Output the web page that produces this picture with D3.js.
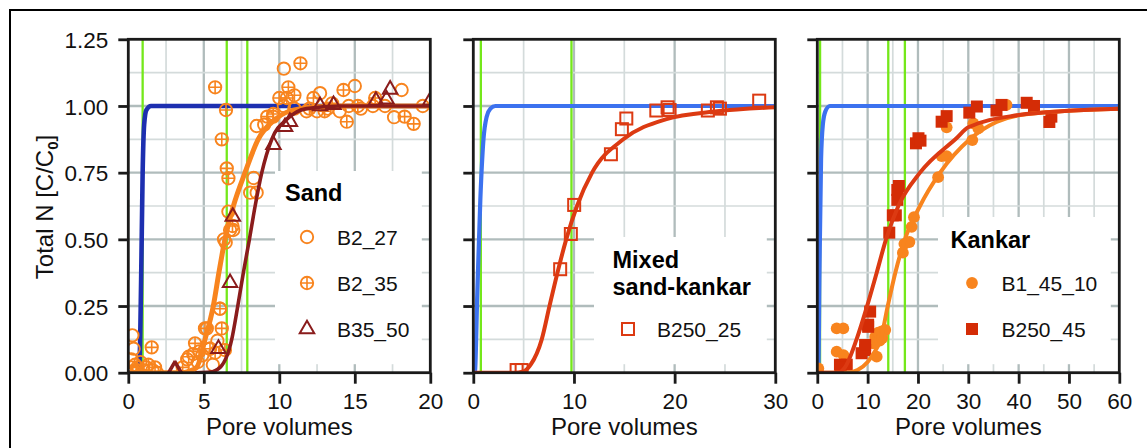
<!DOCTYPE html>
<html><head><meta charset="utf-8">
<script src="https://cdn.jsdelivr.net/npm/d3@7"></script>
<style>body{margin:0;background:#fff}svg{display:block}text{font-family:"Liberation Sans",Arial,sans-serif}</style>
</head><body><svg id="c" width="1147" height="448"></svg>
<script>
// ---------- data ----------
const yTicks = [0, 0.25, 0.5, 0.75, 1.0, 1.25];
const yTickLabels = ["0.00","0.25","0.50","0.75","1.00","1.25"];
const xMaxs = [20, 30, 60];
const xTicks1 = [0,5,10,15,20];
const xTicks2 = [0,10,20,30];
const xTicks3 = [0,10,20,30,40,50,60];
const greenLines1 = [0.95, 6.52, 7.88];
const greenLines2 = [0.75, 9.75];
const greenLines3 = [0.55, 14.1, 17.4];

// Sand panel
const sandB2_27 = [[0.27,0.14],[0.35,0.09],[0.2,0.05],[0.45,0.03],[0.6,0.01],[0.15,0.02],[0.8,0.04],[1.2,0.02],[1.6,0.01],[1.9,0.0],
 [3.9,0.05],[4.3,0.07],[4.6,0.04],[4.9,0.065],[5.2,0.166],[5.4,0.09],[5.6,0.03],[5.9,0.12],[6.08,0.24],[6.34,0.5],[6.45,0.488],
 [6.63,0.604],[6.74,0.535],[6.95,0.535],[8.07,0.675],[8.5,0.675],[8.3,0.73],[8.5,0.925],[9.0,0.93],[9.6,0.96],[10.3,1.14],[10.3,1.0],
 [11.0,0.99],[11.8,0.98],[12.7,1.048],[12.5,0.98],[13.2,0.99],[14.0,0.98],[14.6,1.0],[15.0,1.075],[15.4,0.99],[16.2,1.0],[17.0,1.0],
 [17.6,0.958],[18.1,1.06],[19.5,1.0]];
const sandB2_35 = [[0.3,0.0],[0.6,0.02],[1.0,0.01],[1.33,0.03],[1.55,0.095],[1.77,0.02],
 [3.6,0.02],[4.0,0.06],[4.42,0.11],[4.7,0.08],[5.08,0.166],[5.41,0.09],[5.75,0.075],[6.07,0.24],[6.19,0.166],[6.4,0.085],
 [5.75,1.07],[6.47,0.985],[6.19,0.875],[6.52,0.766],[6.63,0.729],[6.9,0.55],
 [9.2,0.96],[9.6,0.97],[10.0,1.03],[10.5,1.03],[10.6,1.07],[11.4,1.16],[11.0,1.04],[12.0,0.99],[12.26,1.03],[13.0,0.98],[13.5,1.01],
 [14.25,1.06],[14.47,0.941],[15.2,1.0],[16.35,1.03],[18.3,0.96],[18.9,0.933]];
const sandB35_50 = [[3.03,0.01],[3.15,0.01],[5.97,0.09],[6.74,0.337],[6.92,0.585],[9.61,0.854],[10.38,0.922],[10.7,0.941],
 [12.7,1.0],[13.59,1.004],[16.4,1.02],[17.1,1.025],[17.34,1.062],[20.0,1.02]];
const sandTracer = [[0,0],[0.65,0],[0.75,0.05],[0.85,0.35],[0.95,0.75],[1.05,0.93],[1.2,0.985],[1.5,1],[20,1]];
const sandFitB2 = [[0,0],[3.5,0],[4.0,0.005],[4.53,0.02],[5.08,0.125],[5.63,0.25],[6.0,0.375],[6.4,0.5],[6.96,0.625],[7.73,0.75],
 [8.6,0.875],[9.72,0.95],[11.4,0.99],[14,1.0],[20,1.0]];
const sandFitB35 = [[4.5,0],[5.4,0.002],[6.08,0.02],[6.85,0.125],[7.25,0.25],[7.62,0.375],[8.02,0.5],[8.4,0.625],[8.84,0.75],
 [9.5,0.875],[10.5,0.95],[11.8,0.99],[14,1],[20,1]];

// Mixed panel
const mixB250_25 = [[4.3,0.01],[4.8,0.01],[8.63,0.388],[9.69,0.52],[10.02,0.629],[13.67,0.819],[14.76,0.913],[15.2,0.953],
 [18.18,0.983],[19.3,0.995],[19.5,0.985],[23.3,0.983],[24.2,0.995],[24.5,0.99],[28.4,1.02]];
const mixTracer = [[0,0],[0.15,0],[0.4,0.3],[0.7,0.65],[1.0,0.87],[1.33,0.96],[1.7,0.99],[2.2,1],[30,1]];
const mixFit = [[0,0],[4,0],[5.0,0.005],[5.7,0.03],[6.8,0.125],[7.57,0.25],[8.36,0.375],[9.23,0.5],[10.3,0.625],[11.8,0.75],
 [14.9,0.875],[19.1,0.95],[24.2,0.98],[30,0.995]];

// Kankar panel
const kanB1_45_10 = [[0.2,0.016],[3.85,0.166],[5.17,0.166],[3.85,0.079],[5.2,0.066],[11.8,0.06],[11.1,0.11],[11.5,0.135],
 [12.1,0.15],[12.8,0.155],[13.5,0.16],[12.4,0.12],[12.9,0.13],[17.0,0.45],[17.3,0.483],[18.3,0.49],[18.75,0.547],[19.2,0.583],
 [24.0,0.733],[24.7,0.812],[25.7,0.812],[25.7,0.92],[30.8,0.872],[31.0,0.935],[32.0,0.916],[37.6,1.004]];
const kanB250_45 = [[4.5,0.03],[5.85,0.03],[4.65,0.02],[8.8,0.073],[9.5,0.085],[9.5,0.104],[10.1,0.172],[10.1,0.18],[10.5,0.229],
 [14.3,0.525],[15.0,0.59],[15.6,0.59],[15.9,0.648],[15.9,0.685],[16.2,0.70],[19.6,0.86],[20.1,0.879],[20.5,0.87],[24.7,0.941],
 [25.7,0.962],[30.2,0.975],[31.7,0.998],[35.6,0.983],[36.6,1.004],[41.6,1.012],[43.05,1.0],[46.1,0.94],[46.5,0.96]];
const kanTracer = [[0,0],[0.2,0],[0.45,0.4],[0.75,0.8],[1.1,0.93],[1.6,0.98],[2.5,1],[60,1]];
const kanFitB1 = [[0,0],[6,0],[8,0.01],[10,0.04],[11.1,0.07],[12.6,0.125],[14.0,0.25],[15.5,0.375],[17.4,0.5],[20.4,0.625],
 [24.4,0.75],[30.3,0.875],[35.6,0.94],[40,0.965],[50,0.982],[60,0.99]];
const kanFitB250 = [[0,0],[4,0],[5.5,0.02],[7.8,0.125],[9.9,0.25],[11.8,0.375],[13.65,0.5],[16.1,0.625],[20.4,0.75],[27.7,0.88],
 [30,0.92],[40,0.966],[50,0.982],[60,0.99]];

// ---------- styles ----------
const C = {orange:"#f8841e", dred:"#8a1c1c", red:"#dc3a12", red3:"#d42c06", navy:"#1d2fb0", blue:"#3c72ef",
  green:"#74e81a", gridMaj:"#b0bcbc", gridMin:"#d4dbdb", frame:"#1a1a1a"};
const FONT = '"Liberation Sans",Arial,sans-serif';

const svg = d3.select("#c");
svg.append("rect").attr("x",10).attr("y",10).attr("width",1160).attr("height",460)
  .attr("fill","none").attr("stroke","#000").attr("stroke-width",2);

const plotTop = 39.3, plotBottom = 372.7, pw = 302;
const lefts = [128.3, 473.3, 817.3];
const y = d3.scaleLinear().domain([0,1.25]).range([plotBottom, plotTop]);

// symbols
function drawSym(g, type, cx, cy, color) {
  const r = 6.2;
  if (type === "ocircle") {
    g.append("circle").attr("cx",cx).attr("cy",cy).attr("r",r).attr("fill","none").attr("stroke",color).attr("stroke-width",1.9);
  } else if (type === "xcircle") {
    g.append("circle").attr("cx",cx).attr("cy",cy).attr("r",r).attr("fill","none").attr("stroke",color).attr("stroke-width",1.9);
    g.append("path").attr("d",`M${cx-r},${cy}H${cx+r}M${cx},${cy-r}V${cy+r}`).attr("stroke",color).attr("stroke-width",1.6);
  } else if (type === "tri") {
    const s = 14.5, h = s*Math.sqrt(3)/2;
    g.append("path").attr("d",`M${cx},${cy-2*h/3}L${cx+s/2},${cy+h/3}L${cx-s/2},${cy+h/3}Z`)
      .attr("fill","none").attr("stroke",color).attr("stroke-width",2).attr("stroke-linejoin","miter");
  } else if (type === "osquare") {
    g.append("rect").attr("x",cx-6).attr("y",cy-6).attr("width",12).attr("height",12).attr("fill","none").attr("stroke",color).attr("stroke-width",2);
  } else if (type === "fcircle") {
    g.append("circle").attr("cx",cx).attr("cy",cy).attr("r",5.9).attr("fill",color);
  } else if (type === "fsquare") {
    g.append("rect").attr("x",cx-6).attr("y",cy-6).attr("width",12).attr("height",12).attr("fill",color);
  }
}

const panels = [
  {xmax:xMaxs[0], ticks:xTicks1, grid:2.5, greens:greenLines1, tracer:sandTracer, tracerColor:C.navy, tw:4.6,
   points:[{d:sandB2_27,t:"ocircle",c:C.orange},{d:sandB2_35,t:"xcircle",c:C.orange}],
   fits:[{d:sandFitB2,c:C.orange,w:5},{d:sandFitB35,c:C.dred,w:3.6}],
   after:[{d:sandB35_50,t:"tri",c:C.dred}],
   legend:{x0:275, y0:171, title:["Sand"], tx:285, ty:[201], items:[
     {t:"ocircle",c:C.orange,label:"B2_27",y:237},{t:"xcircle",c:C.orange,label:"B2_35",y:283},{t:"tri",c:C.dred,label:"B35_50",y:329}],
     sx:307, lx:337}},
  {xmax:xMaxs[1], ticks:xTicks2, grid:5, greens:greenLines2, tracer:mixTracer, tracerColor:C.blue, tw:4.2,
   points:[], fits:[{d:mixFit,c:C.red,w:4}],
   after:[{d:mixB250_25,t:"osquare",c:C.red}],
   legend:{x0:594, y0:237, title:["Mixed","sand-kankar"], tx:612.5, ty:[268,295], items:[
     {t:"osquare",c:C.red,label:"B250_25",y:329}], sx:628, lx:657}},
  {xmax:xMaxs[2], ticks:xTicks3, grid:5, greens:greenLines3, tracer:kanTracer, tracerColor:C.blue, tw:4.2,
   points:[{d:kanB1_45_10,t:"fcircle",c:C.orange},{d:kanB250_45,t:"fsquare",c:C.red3}],
   fits:[{d:kanFitB1,c:C.orange,w:4},{d:kanFitB250,c:C.red,w:4}],
   after:[],
   legend:{x0:938, y0:217, title:["Kankar"], tx:950.5, ty:[248], items:[
     {t:"fcircle",c:C.orange,label:"B1_45_10",y:283},{t:"fsquare",c:C.red3,label:"B250_45",y:329}], sx:972, lx:1001.5}}
];

panels.forEach((p, i) => {
  const L = lefts[i], R = L + pw;
  const x = d3.scaleLinear().domain([0,p.xmax]).range([L, R]);
  const g = svg.append("g");
  const clipId = "clip"+i;
  svg.append("clipPath").attr("id",clipId).append("rect").attr("x",L).attr("y",plotTop).attr("width",pw).attr("height",plotBottom-plotTop);
  const gp = g.append("g").attr("clip-path",`url(#${clipId})`);

  // grid
  const xg = d3.range(p.grid, p.xmax - 1e-9, p.grid);
  const yg = d3.range(0.125, 1.25 - 1e-9, 0.125);
  const isMajX = v => Math.abs(v/(p.grid*2) - Math.round(v/(p.grid*2))) < 1e-6;
  const isMajY = v => Math.abs(v/0.25 - Math.round(v/0.25)) < 1e-6;
  gp.selectAll(".gx").data(xg).enter().append("line")
    .attr("x1",d=>x(d)).attr("x2",d=>x(d)).attr("y1",plotTop).attr("y2",plotBottom)
    .attr("stroke",d=>isMajX(d)?C.gridMaj:C.gridMin).attr("stroke-width",d=>isMajX(d)?2.3:1.7);
  gp.selectAll(".gy").data(yg).enter().append("line")
    .attr("y1",d=>y(d)).attr("y2",d=>y(d)).attr("x1",L).attr("x2",R)
    .attr("stroke",d=>isMajY(d)?C.gridMaj:C.gridMin).attr("stroke-width",d=>isMajY(d)?2.3:1.7);

  // legend box (covers grid)
  const lg = p.legend;
  gp.append("rect").attr("x",lg.x0).attr("y",lg.y0).attr("width",R-8.5-lg.x0).attr("height",plotBottom-8.5-lg.y0).attr("fill","#fff");

  // green lines
  gp.selectAll(".gr").data(p.greens).enter().append("line")
    .attr("x1",d=>x(d)).attr("x2",d=>x(d)).attr("y1",plotTop).attr("y2",plotBottom)
    .attr("stroke",C.green).attr("stroke-width",2.3);

  const line = d3.line().x(d=>x(d[0])).y(d=>y(d[1])).curve(d3.curveMonotoneX);
  gp.append("path").attr("d",line(p.tracer)).attr("fill","none").attr("stroke",p.tracerColor).attr("stroke-width",p.tw).attr("stroke-linejoin","round");
  p.points.forEach(s => s.d.forEach(d => drawSym(gp, s.t, x(d[0]), y(d[1]), s.c)));
  p.fits.forEach(f => gp.append("path").attr("d",line(f.d)).attr("fill","none").attr("stroke",f.c).attr("stroke-width",f.w).attr("stroke-linecap","round"));
  p.after.forEach(s => s.d.forEach(d => drawSym(gp, s.t, x(d[0]), y(d[1]), s.c)));

  // legend text
  lg.title.forEach((t,k) => g.append("text").attr("x",lg.tx).attr("y",lg.ty[k]).attr("font-size",23.5).attr("font-weight","bold").attr("fill","#000").text(t));
  lg.items.forEach(it => {
    drawSym(g, it.t, lg.sx, it.y, it.c);
    g.append("text").attr("x",lg.lx).attr("y",it.y+7.5).attr("font-size",21).attr("fill","#111").text(it.label);
  });

  // frame
  g.append("rect").attr("x",L).attr("y",plotTop).attr("width",pw).attr("height",plotBottom-plotTop)
    .attr("fill","none").attr("stroke",C.frame).attr("stroke-width",2.8);

  // axes
  const ax = d3.axisBottom(x).tickValues(p.ticks).tickSize(11).tickPadding(4).tickFormat(d3.format("d"));
  const gx = g.append("g").attr("transform",`translate(0,${plotBottom})`).call(ax);
  gx.select(".domain").remove();
  gx.selectAll("line").attr("stroke",C.frame).attr("stroke-width",2.8);
  gx.selectAll("text").attr("font-size",22.5).attr("font-family",FONT).attr("fill","#111").attr("dy",null).attr("y",36);

  const ay = d3.axisLeft(y).tickValues(yTicks).tickSize(10).tickPadding(10)
    .tickFormat((d,k) => i===0 ? yTickLabels[k] : "");
  const gy = g.append("g").attr("transform",`translate(${L},0)`).call(ay);
  gy.select(".domain").remove();
  gy.selectAll("line").attr("stroke",C.frame).attr("stroke-width",2.8);
  gy.selectAll("text").attr("font-size",22.5).attr("font-family",FONT).attr("fill","#111").attr("dy","0.36em").attr("x",-20);

  g.append("text").attr("x",(L+R)/2).attr("y",435).attr("text-anchor","middle").attr("font-size",24).attr("fill","#111").text("Pore volumes");
});

const yt = svg.append("text").attr("transform","translate(53,207) rotate(-90)").attr("text-anchor","middle")
  .attr("font-size",24).attr("fill","#111");
yt.append("tspan").text("Total N [C/C");
yt.append("tspan").attr("font-size",15).attr("dy",5).attr("font-weight","bold").text("0");
yt.append("tspan").attr("dy",-5).text("]");
</script></body></html>
